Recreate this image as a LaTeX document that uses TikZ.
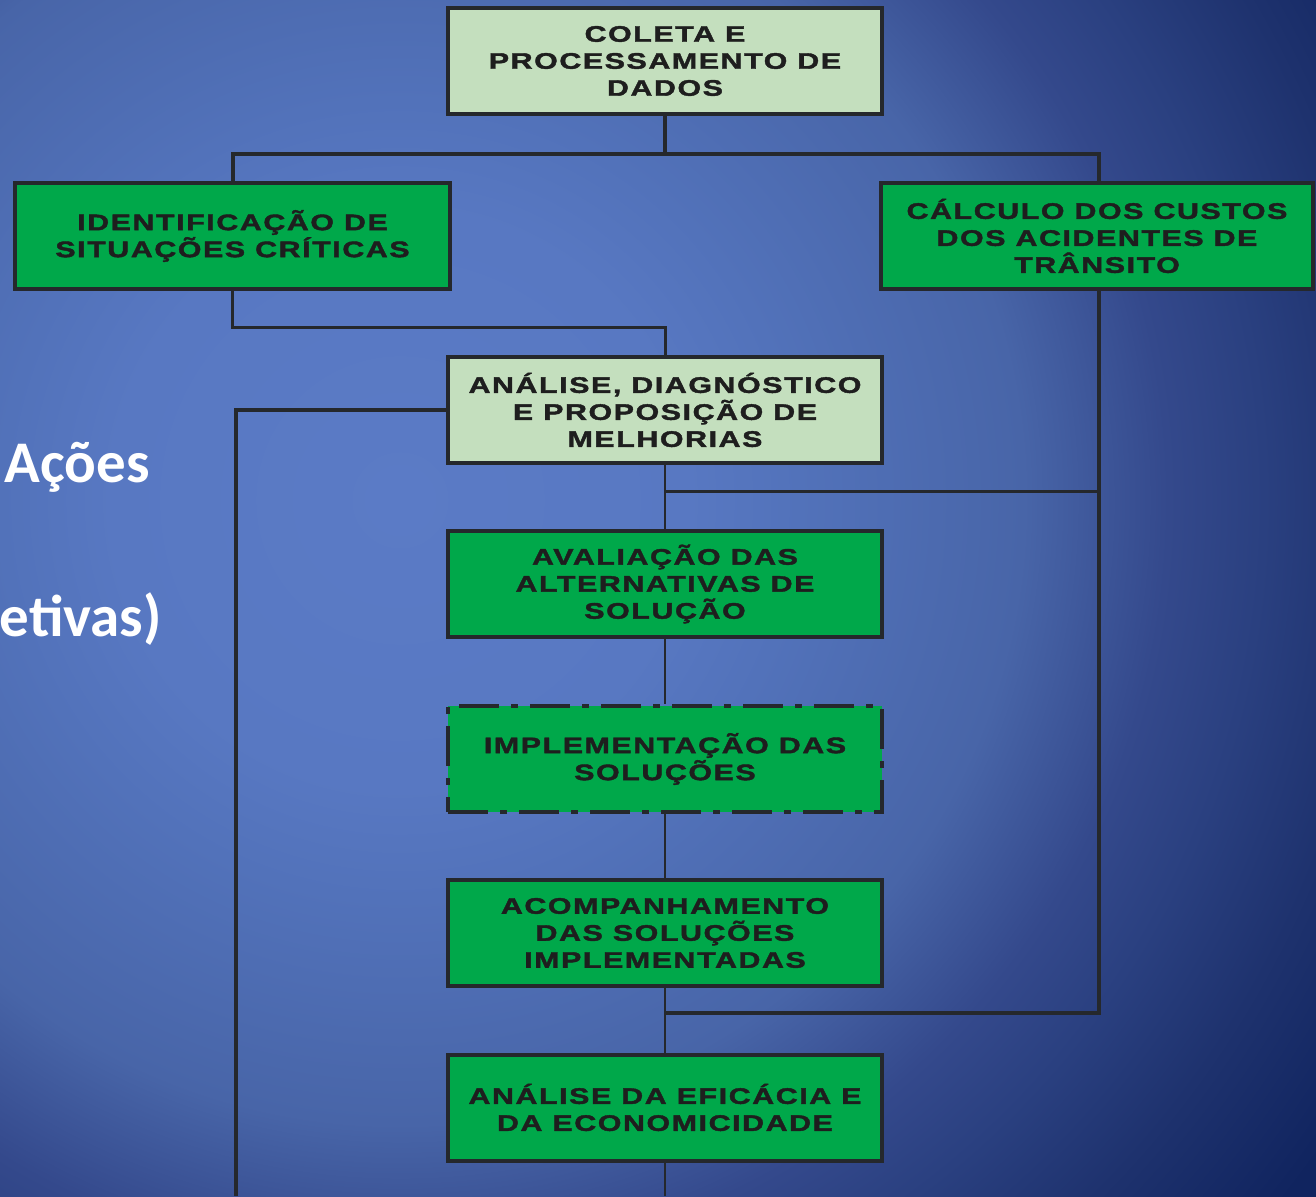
\documentclass[tikz,border=0pt]{standalone}
\usepackage{fontspec}
\setmainfont{Liberation Sans}
\newfontfamily\boxfont{Liberation Sans}[FakeStretch=1.35,LetterSpace=7,FakeBold=1.8]
\newfontfamily\sidefont{Carlito}
\definecolor{lightbox}{HTML}{C4DFBE}
\definecolor{greenbox}{HTML}{00A84A}
\definecolor{edge}{HTML}{25282C}
\definecolor{txt}{HTML}{1E1E1E}
\definecolor{bgA}{HTML}{5B7BC6}
\definecolor{bgB}{HTML}{5878C2}
\definecolor{bgC}{HTML}{5272BA}
\definecolor{bgD}{HTML}{4865A8}
\definecolor{bgE}{HTML}{34498C}
\definecolor{bgF}{HTML}{2A4080}
\definecolor{bgG}{HTML}{1E326E}
\definecolor{bgH}{HTML}{10245F}
\pgfdeclareradialshading{bgshade}{\pgfpoint{0bp}{0bp}}{color(0bp)=(bgA); color(6bp)=(bgB); color(8.3bp)=(bgC); color(13bp)=(bgD); color(16bp)=(bgE); color(18bp)=(bgF); color(20.5bp)=(bgG); color(23.5bp)=(bgH); color(50bp)=(bgH)}
\tikzset{
  stagebox/.style={draw=edge, line width=4pt, minimum width=434pt, minimum height=106pt,
    inner sep=0pt, align=center, text=txt,
    font=\boxfont\bfseries\fontsize{22.5}{27}\selectfont},
  lightstage/.style={stagebox, fill=lightbox},
  greenstage/.style={stagebox, fill=greenbox},
  dashstage/.style={stagebox, fill=greenbox, dash pattern=on 40pt off 12pt on 7pt off 12pt},
  heavyline/.style={draw=edge, line width=4pt},
  midline/.style={draw=edge, line width=3pt},
  thinline/.style={draw=edge, line width=2.4pt},
  sidetext/.style={text=white, font=\sidefont\bfseries\fontsize{59}{70}\selectfont, inner sep=0pt}
}
\begin{document}
\begin{tikzpicture}[x=1pt,y=-1pt]
\useasboundingbox (0,0) rectangle (1316,1196);
\begin{scope}
\clip (0,0) rectangle (1316,1196);
\shade[shading=bgshade] (400,500) circle (1200);
\node[sidetext, anchor=base east] (t1) at (150,482) {Ações};
\node[sidetext, anchor=base east] (t2) at (162,636) {etivas)};
\end{scope}

\node[lightstage] (n1) at (665,61) {COLETA E\\PROCESSAMENTO DE\\DADOS};
\node[greenstage, minimum width=435pt] (n2) at (232.5,236) {IDENTIFICAÇÃO DE\\SITUAÇÕES CRÍTICAS};
\node[greenstage, minimum width=432pt] (n3) at (1097,236) {CÁLCULO DOS CUSTOS\\DOS ACIDENTES DE\\TRÂNSITO};
\node[lightstage] (n4) at (665,410) {ANÁLISE, DIAGNÓSTICO\\E PROPOSIÇÃO DE\\MELHORIAS};
\node[greenstage] (n5) at (665,584) {AVALIAÇÃO DAS\\ALTERNATIVAS DE\\SOLUÇÃO};
\node[dashstage] (n6) at (665,759) {IMPLEMENTAÇÃO DAS\\SOLUÇÕES};
\node[greenstage] (n7) at (665,933) {ACOMPANHAMENTO\\DAS SOLUÇÕES\\IMPLEMENTADAS};
\node[greenstage] (n8) at (665,1107.5) {ANÁLISE DA EFICÁCIA E\\DA ECONOMICIDADE};

\coordinate (j1) at (665,154);
\coordinate (j2) at (665,327);
\coordinate (j3) at (665,491);
\coordinate (j4) at (665,1013);
\coordinate (b1) at (665,1196);
\coordinate (b2) at (236,1196);

\path[heavyline] (n1.south) -- (j1);
\path[heavyline] (n2.north) |- (j1) -| ([xshift=2pt]n3.north);
\path[midline] (n2.south) |- (j2) -- (n4.north);
\path[heavyline] ([xshift=2pt]n3.south) |- (j4);
\path[midline] ([xshift=2pt]n3.south |- j3) -- (j3);
\path[heavyline] (n4.west) -| (b2);
\path[thinline] (n4.south) -- (n5.north);
\path[thinline] (n5.south) -- (n6.north);
\path[thinline] (n6.south) -- (n7.north);
\path[thinline] (n7.south) -- (n8.north);
\path[thinline] (n8.south) -- (b1);
\end{tikzpicture}
\end{document}
